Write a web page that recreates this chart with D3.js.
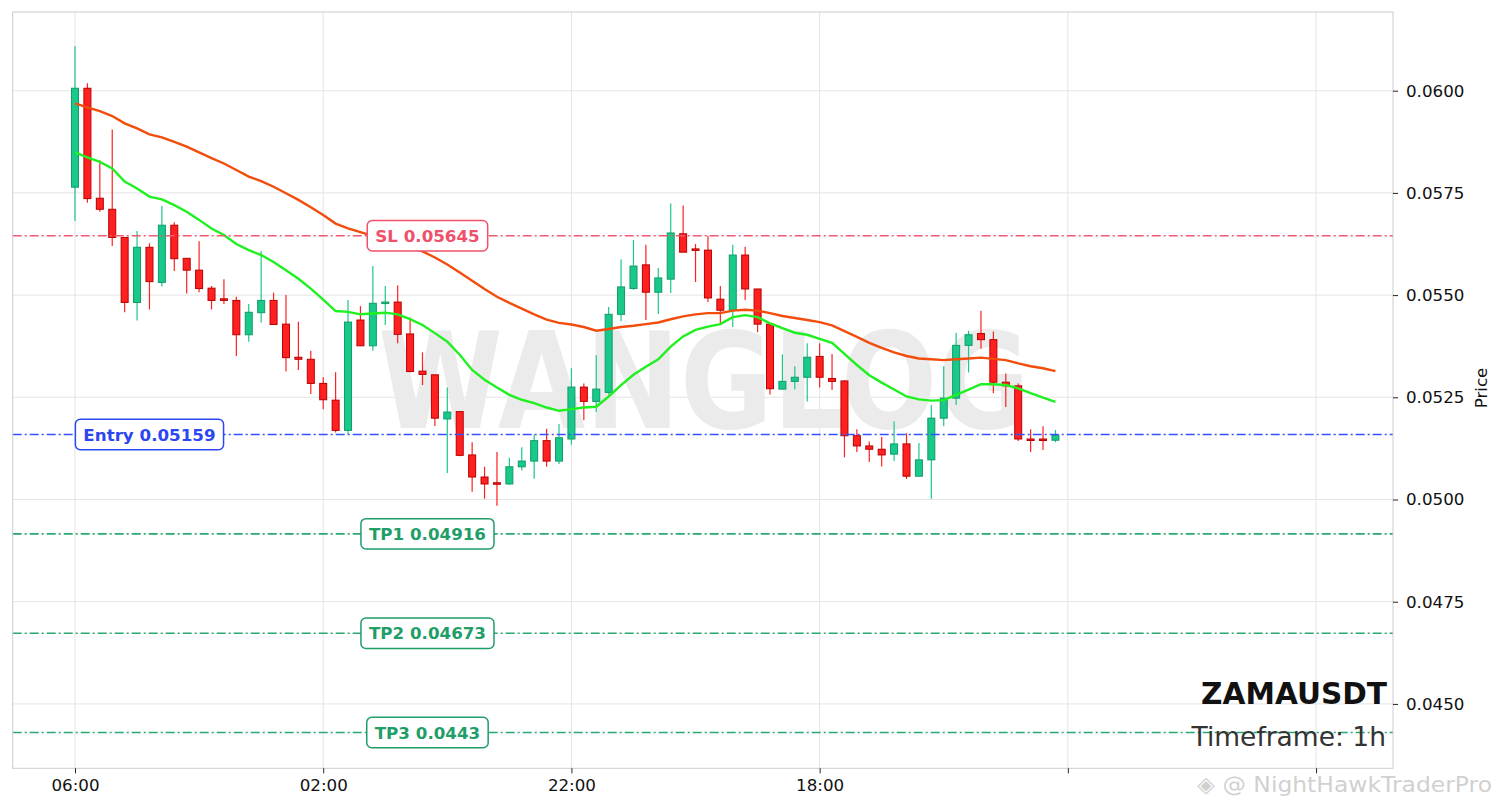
<!DOCTYPE html>
<html>
<head>
<meta charset="utf-8">
<script src="https://cdn.jsdelivr.net/npm/d3@7"></script>
<style>
  body { margin: 0; background: #fff; }
  svg { display: block; font-family: "DejaVu Sans", sans-serif; }
</style>
</head>
<body>
<div id="chart"></div>
<script>
// candle data, one per hour, first candle = 06:00
var opens  = [0.05764,0.06006,0.05737,0.05710,0.05641,0.05482,0.05617,0.05531,0.05671,0.05590,
              0.05561,0.05517,0.05491,0.05487,0.05403,0.05457,0.05487,0.05429,0.05348,0.05343,
              0.05284,0.05243,0.05169,0.05439,0.05376,0.05480,0.05483,0.05405,0.05314,0.05305,
              0.05197,0.05215,0.05109,0.05055,0.05041,0.05038,0.05080,0.05094,0.05144,0.05094,
              0.05148,0.05275,0.05240,0.05262,0.05453,0.05516,0.05574,0.05507,0.05539,0.05650,
              0.05613,0.05610,0.05490,0.05463,0.05598,0.05515,0.05429,0.05270,0.05289,0.05299,
              0.05350,0.05296,0.05290,0.05156,0.05131,0.05123,0.05111,0.05136,0.05057,0.05097,
              0.05199,0.05248,0.05377,0.05406,0.05391,0.05287,0.05278,0.05148,0.05148,0.05145];
var highs  = [0.06109,0.06018,0.05830,0.05905,0.05641,0.05657,0.05627,0.05718,0.05678,0.05590,
              0.05632,0.05522,0.05539,0.05496,0.05478,0.05608,0.05506,0.05500,0.05435,0.05364,
              0.05299,0.05311,0.05488,0.05473,0.05571,0.05522,0.05524,0.05445,0.05360,0.05305,
              0.05274,0.05215,0.05140,0.05080,0.05116,0.05102,0.05128,0.05159,0.05173,0.05185,
              0.05321,0.05284,0.05353,0.05471,0.05588,0.05635,0.05623,0.05566,0.05724,0.05719,
              0.05625,0.05645,0.05522,0.05623,0.05618,0.05515,0.05429,0.05355,0.05326,0.05382,
              0.05382,0.05356,0.05292,0.05172,0.05142,0.05153,0.05191,0.05162,0.05138,0.05231,
              0.05326,0.05408,0.05413,0.05462,0.05411,0.05308,0.05284,0.05172,0.05179,0.05170];
var lows   = [0.05681,0.05726,0.05704,0.05620,0.05458,0.05438,0.05465,0.05521,0.05559,0.05504,
              0.05507,0.05465,0.05478,0.05351,0.05386,0.05433,0.05428,0.05313,0.05317,0.05258,
              0.05221,0.05164,0.05160,0.05376,0.05364,0.05427,0.05382,0.05311,0.05280,0.05180,
              0.05065,0.05106,0.05019,0.05002,0.04985,0.05036,0.05071,0.05051,0.05080,0.05087,
              0.05134,0.05194,0.05214,0.05257,0.05436,0.05513,0.05439,0.05454,0.05505,0.05605,
              0.05532,0.05483,0.05431,0.05422,0.05488,0.05409,0.05257,0.05270,0.05270,0.05240,
              0.05274,0.05268,0.05103,0.05116,0.05092,0.05081,0.05094,0.05050,0.05057,0.05002,
              0.05179,0.05231,0.05311,0.05369,0.05260,0.05226,0.05143,0.05116,0.05121,0.05140];
var closes = [0.06006,0.05736,0.05710,0.05641,0.05482,0.05617,0.05533,0.05671,0.05589,0.05561,
              0.05516,0.05487,0.05487,0.05403,0.05458,0.05487,0.05428,0.05347,0.05343,0.05284,
              0.05244,0.05169,0.05434,0.05376,0.05480,0.05483,0.05404,0.05313,0.05306,0.05199,
              0.05214,0.05108,0.05055,0.05038,0.05038,0.05080,0.05094,0.05144,0.05094,0.05151,
              0.05275,0.05240,0.05270,0.05453,0.05520,0.05571,0.05507,0.05542,0.05652,0.05605,
              0.05610,0.05493,0.05463,0.05598,0.05515,0.05429,0.05271,0.05289,0.05299,0.05348,
              0.05299,0.05289,0.05156,0.05131,0.05123,0.05109,0.05136,0.05057,0.05097,0.05199,
              0.05248,0.05377,0.05403,0.05391,0.05287,0.05278,0.05148,0.05145,0.05145,0.05157];

// moving averages
var emaFast = [0.05849,0.05837,0.05826,0.05810,0.05778,0.05761,0.05741,0.05734,0.05720,0.05704,
               0.05684,0.05663,0.05647,0.05625,0.05610,0.05598,0.05581,0.05561,0.05540,0.05516,
               0.05489,0.05461,0.05459,0.05453,0.05455,0.05457,0.05453,0.05441,0.05427,0.05407,
               0.05386,0.05354,0.05317,0.05293,0.05274,0.05256,0.05244,0.05236,0.05225,0.05217,
               0.05221,0.05225,0.05227,0.05252,0.05280,0.05305,0.05325,0.05343,0.05374,0.05399,
               0.05415,0.05423,0.05429,0.05446,0.05451,0.05446,0.05431,0.05419,0.05408,0.05403,
               0.05393,0.05383,0.05356,0.05329,0.05304,0.05286,0.05269,0.05252,0.05245,0.05242,
               0.05243,0.05256,0.05269,0.05282,0.05282,0.05280,0.05272,0.05260,0.05249,0.05239];
var emaSlow = [0.05969,0.05959,0.05950,0.05938,0.05920,0.05908,0.05893,0.05886,0.05875,0.05863,
               0.05849,0.05835,0.05822,0.05806,0.05790,0.05779,0.05765,0.05749,0.05733,0.05715,
               0.05696,0.05675,0.05663,0.05654,0.05645,0.05635,0.05625,0.05617,0.05607,0.05592,
               0.05575,0.05555,0.05535,0.05515,0.05496,0.05481,0.05467,0.05453,0.05440,0.05432,
               0.05428,0.05422,0.05413,0.05417,0.05422,0.05425,0.05429,0.05433,0.05441,0.05448,
               0.05453,0.05456,0.05456,0.05462,0.05464,0.05462,0.05456,0.05449,0.05444,0.05439,
               0.05434,0.05426,0.05412,0.05398,0.05383,0.05371,0.05360,0.05351,0.05345,0.05343,
               0.05341,0.05343,0.05345,0.05347,0.05344,0.05341,0.05333,0.05326,0.05321,0.05314];

var xTicks = [0, 20, 40, 60, 80, 100];
var xTickLabels = ["06:00", "02:00", "22:00", "18:00", "", ""];
var yTicks = [0.0450, 0.0475, 0.0500, 0.0525, 0.0550, 0.0575, 0.0600];

var levelText   = ["SL 0.05645", "Entry 0.05159", "TP1 0.04916", "TP2 0.04673", "TP3 0.0443"];
var levelValues = [0.05645, 0.05159, 0.04916, 0.04673, 0.0443];
var levelLabelAt = [28.4, 6, 28.4, 28.4, 28.4];
var levelColors = ["#f0506a", "#2b46f2", "#1f9e68", "#1f9e68", "#1f9e68"];
var levelLineColors = ["#f05a70", "#3550ff", "#28a872", "#28a872", "#28a872"];

var symbol = "ZAMAUSDT", timeframe = "Timeframe: 1h";

var W = 1501, H = 808;
var plot = {left: 12.7, top: 12, right: 1393, bottom: 768.3};

var svg = d3.select("#chart").append("svg")
    .attr("width", W)
    .attr("height", H);

var x = d3.scaleLinear().domain([-5.02, 106.2]).range([plot.left, plot.right]);
var y = d3.scaleLinear().domain([0.043425, 0.061925]).range([plot.bottom, plot.top]);

svg.append("defs").append("clipPath").attr("id", "clip")
  .append("rect")
    .attr("x", plot.left).attr("y", plot.top)
    .attr("width", plot.right - plot.left).attr("height", plot.bottom - plot.top);

// grid
var grid = svg.append("g").attr("clip-path", "url(#clip)");
grid.selectAll(".hg").data(yTicks).enter().append("line")
    .attr("x1", plot.left).attr("x2", plot.right)
    .attr("y1", function(d) { return y(d); }).attr("y2", function(d) { return y(d); })
    .attr("stroke", "#e4e4e4").attr("stroke-width", 1);
grid.selectAll(".vg").data(xTicks).enter().append("line")
    .attr("y1", plot.top).attr("y2", plot.bottom)
    .attr("x1", function(d) { return x(d); }).attr("x2", function(d) { return x(d); })
    .attr("stroke", "#e4e4e4").attr("stroke-width", 1);

// big watermark
svg.append("text")
    .attr("x", 378).attr("y", 428)
    .attr("textLength", 652).attr("lengthAdjust", "spacingAndGlyphs")
    .attr("font-size", 133).attr("font-weight", "bold")
    .attr("fill", "#ebebeb")
    .text("WANGLOG");

var body = svg.append("g").attr("clip-path", "url(#clip)");
var candles = d3.range(opens.length);
var bw = 7;

// wicks
body.selectAll(".wick").data(candles).enter().append("line")
    .attr("x1", function(i) { return x(i); }).attr("x2", function(i) { return x(i); })
    .attr("y1", function(i) { return y(highs[i]); })
    .attr("y2", function(i) { return y(lows[i]); })
    .attr("stroke", function(i) { return closes[i] >= opens[i] ? "#19c98a" : "#ff2020"; })
    .attr("stroke-width", 1.2);

// bodies
body.selectAll(".bar").data(candles).enter().append("rect")
    .attr("x", function(i) { return x(i) - bw / 2; })
    .attr("width", bw)
    .attr("y", function(i) { return y(Math.max(opens[i], closes[i])); })
    .attr("height", function(i) { return Math.max(1.5, Math.abs(y(opens[i]) - y(closes[i]))); })
    .attr("fill", function(i) { return closes[i] >= opens[i] ? "#19c98a" : "#ff2020"; })
    .attr("stroke", function(i) { return closes[i] >= opens[i] ? "#119b69" : "#b80000"; })
    .attr("stroke-width", 1);

// EMAs
var line = d3.line().x(function(d, i) { return x(i); }).y(function(d) { return y(d); });
body.append("path").datum(emaSlow)
    .attr("d", line).attr("fill", "none")
    .attr("stroke", "#f24d0c").attr("stroke-width", 2.4);
body.append("path").datum(emaFast)
    .attr("d", line).attr("fill", "none")
    .attr("stroke", "#1ff01f").attr("stroke-width", 2.4);

// level lines
body.selectAll(".lvl").data(levelValues).enter().append("line")
    .attr("x1", plot.left).attr("x2", plot.right)
    .attr("y1", function(d) { return y(d); }).attr("y2", function(d) { return y(d); })
    .attr("stroke", function(d, i) { return levelLineColors[i]; })
    .attr("stroke-width", 1.6)
    .attr("stroke-dasharray", "9,3,2,3");

// level labels
levelValues.forEach(function(v, i) {
  var g = svg.append("g").attr("transform", "translate(" + x(levelLabelAt[i]) + "," + y(v) + ")");
  var rect = g.append("rect");
  var t = g.append("text")
      .attr("text-anchor", "middle").attr("dy", "0.36em")
      .attr("font-size", 16.7).attr("font-weight", "bold")
      .attr("fill", levelColors[i])
      .text(levelText[i]);
  var bb = t.node().getBBox();
  rect.attr("x", -bb.width / 2 - 8).attr("y", -15.2)
      .attr("width", bb.width + 16).attr("height", 30.4)
      .attr("rx", 5)
      .attr("fill", "#fff")
      .attr("stroke", levelColors[i]).attr("stroke-width", 1.5);
});

// frame
svg.append("rect")
    .attr("x", plot.left).attr("y", plot.top)
    .attr("width", plot.right - plot.left).attr("height", plot.bottom - plot.top)
    .attr("fill", "none").attr("stroke", "#cccccc").attr("stroke-width", 1);

// axes
var yAxis = svg.append("g")
    .attr("transform", "translate(" + plot.right + ",0)")
    .call(d3.axisRight(y).tickValues(yTicks).tickFormat(d3.format(".4f")).tickSize(5).tickPadding(8));
var xAxis = svg.append("g")
    .attr("transform", "translate(0," + plot.bottom + ")")
    .call(d3.axisBottom(x).tickValues(xTicks)
      .tickFormat(function(d, i) { return xTickLabels[i]; }).tickSize(5).tickPadding(6));
[yAxis, xAxis].forEach(function(a) {
  a.select(".domain").remove();
  a.selectAll("text").attr("font-size", 16.7).attr("font-family", "DejaVu Sans").attr("fill", "#111");
  a.selectAll("line").attr("stroke", "#222");
});

svg.append("text")
    .attr("transform", "translate(1487,388) rotate(-90)")
    .attr("text-anchor", "middle")
    .attr("font-size", 16.7).attr("fill", "#111")
    .text("Price");

// symbol / timeframe
svg.append("text")
    .attr("x", 1387).attr("y", 704)
    .attr("text-anchor", "end")
    .attr("font-size", 29.6).attr("font-weight", "bold").attr("fill", "#111")
    .text(symbol);
svg.append("text")
    .attr("x", 1386).attr("y", 746)
    .attr("text-anchor", "end")
    .attr("font-size", 26.5).attr("fill", "#333")
    .text(timeframe);

// corner watermark
svg.append("text")
    .attr("x", 1197).attr("y", 792)
    .attr("textLength", 295).attr("lengthAdjust", "spacingAndGlyphs")
    .attr("font-size", 22).attr("fill", "#c8c8c8").attr("fill-opacity", 0.85)
    .text("\u25C8 @ NightHawkTraderPro");
</script>
</body>
</html>
